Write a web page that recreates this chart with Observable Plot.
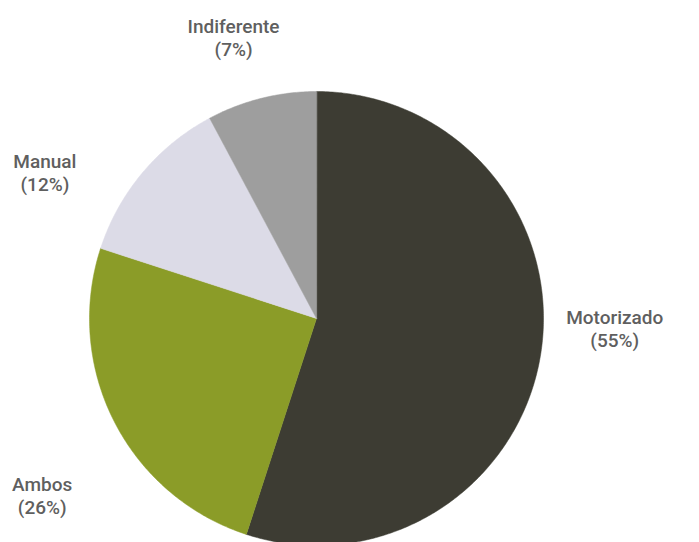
<!DOCTYPE html>
<html>
<head>
<meta charset="utf-8">
<script src="https://cdn.jsdelivr.net/npm/d3@7"></script>
<script src="https://cdn.jsdelivr.net/npm/@observablehq/plot@0.6"></script>
<style>
  html, body { margin: 0; padding: 0; background: #ffffff; }
  #chart { width: 699px; height: 542px; }
</style>
</head>
<body>
<div id="chart"></div>
<script>
// ---- data ----
const categories = ["Motorizado", "Ambos", "Manual", "Indiferente"];
const shares = [55, 25, 12.2, 7.8];              // slice sizes
const percentLabels = ["(55%)", "(26%)", "(12%)", "(7%)"];
const colors = ["#3d3c33", "#8b9c28", "#dcdbe7", "#9e9e9e"];

// ---- layout ----
const W = 699, H = 542;
const cx = 316, cy = 318, R = 227;   // pie centre and radius in pixels

const pie = d3.pie().sort(null).value(d => d)(shares);

// polygon points for each slice (unit radius), derived from the pie angles
const slicePoints = pie.map((p, i) => {
  const pts = [{x: 0, y: 0}];
  const n = Math.max(8, Math.ceil((p.endAngle - p.startAngle) / 0.01));
  for (let k = 0; k <= n; k++) {
    const a = p.startAngle + (p.endAngle - p.startAngle) * k / n;
    pts.push({x: Math.sin(a), y: -Math.cos(a)});
  }
  return pts;
});

// label placement: along mid-angle just outside the pie, with small nudges
const labelRadius = 1.3;
const nudges = {Motorizado: [0.03, -0.16], Ambos: [-0.05, 0.19], Manual: [-0.2, 0.19], Indiferente: [-0.05, 0.02]};
const labels = pie.map((p, i) => {
  const a = (p.startAngle + p.endAngle) / 2;
  const [nx, ny] = nudges[categories[i]];
  return {
    x: labelRadius * Math.sin(a) + nx,
    y: -labelRadius * Math.cos(a) + ny,
    text: categories[i] + "\n" + percentLabels[i]
  };
});

const marks = slicePoints.map((pts, i) =>
  Plot.line(pts, {x: "x", y: "y", curve: "linear-closed", fill: colors[i], stroke: colors[i], strokeWidth: 0.5})
);
marks.push(
  Plot.text(labels, {
    x: "x", y: "y", text: "text",
    fill: "#5f5f5f", fontSize: 19, fontWeight: 500, lineHeight: 1.21,
    lineAnchor: "middle", textAnchor: "middle"
  })
);

const chart = Plot.plot({
  width: W,
  height: H,
  margin: 0,
  x: {domain: [-cx / R, (W - cx) / R], range: [0, W], axis: null},
  y: {domain: [-cy / R, (H - cy) / R], range: [0, H], axis: null},
  style: {fontFamily: "Roboto, 'Noto Sans', sans-serif", background: "#ffffff"},
  marks
});
document.getElementById("chart").appendChild(chart);
</script>
</body>
</html>
